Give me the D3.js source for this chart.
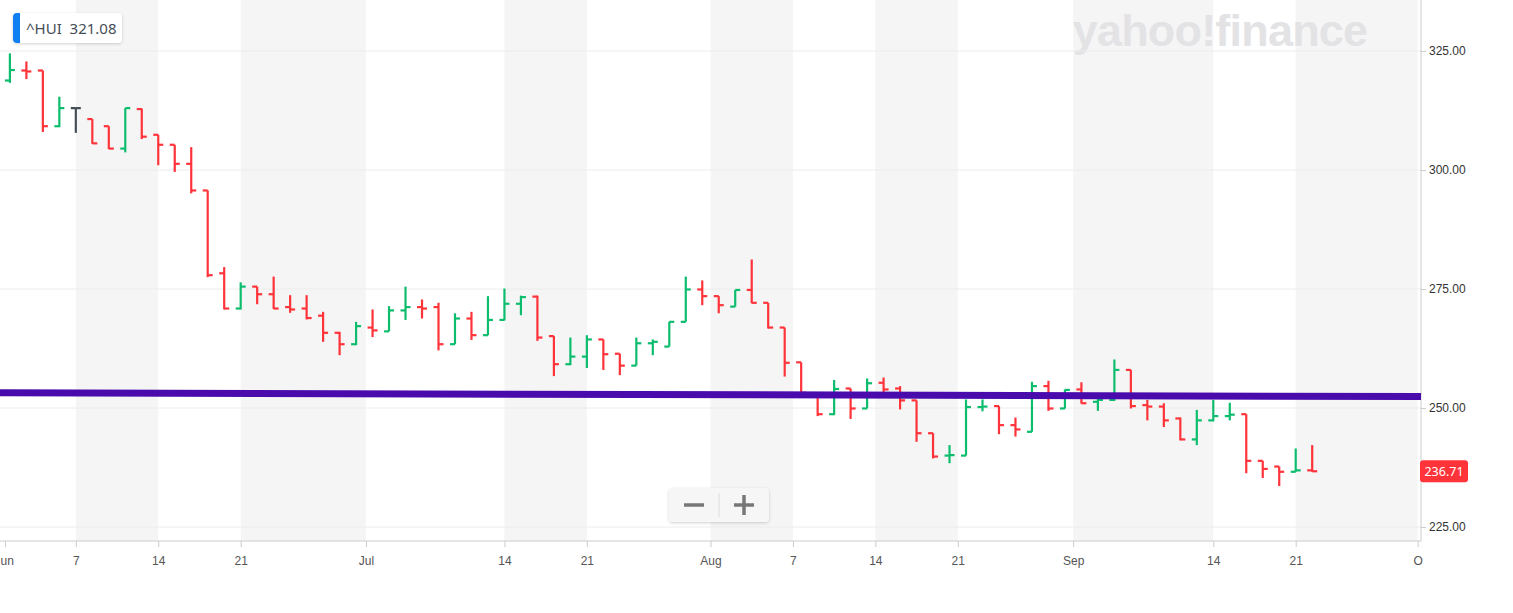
<!DOCTYPE html>
<html>
<head>
<meta charset="utf-8">
<script src="https://cdn.jsdelivr.net/npm/d3@7/dist/d3.min.js"></script>
<style>
  body { margin: 0; background: #fff; font-family: "Noto Sans", "Open Sans", sans-serif; }
  svg { display: block; }
</style>
</head>
<body>
<svg width="1513" height="613"></svg>
<script>
// OHLC for ^HUI, one entry per trading day (index = bar position)
var opens  = [318.8,320.9,320.9,309.2,313.0,310.7,309.2,304.5,312.8,307.4,305.3,301.3,295.7,278.3,270.9,275.5,273.9,271.2,270.9,269.4,
              265.8,263.4,266.9,266.1,270.5,271.2,271.2,263.4,268.8,265.3,268.5,271.9,273.4,265.1,259.2,260.8,264.4,261.4,258.9,263.6,
              262.9,268.1,274.9,273.5,271.3,274.8,272.1,266.9,259.6,253.0,248.7,254.1,249.9,255.3,254.1,251.6,244.7,240.0,240.0,250.2,
              250.4,246.4,245.0,254.6,249.9,253.9,251.3,251.7,258.0,250.6,250.3,247.8,243.4,247.4,248.3,248.7,238.9,237.7,236.6,236.9];
var highs  = [324.5,322.8,320.9,315.4,313.0,310.7,309.2,313.0,312.9,307.4,305.3,304.8,295.7,279.6,276.4,275.5,277.6,273.7,273.7,270.2,
              266.0,268.1,270.7,271.4,275.5,272.8,272.1,269.9,270.2,273.5,275.1,273.6,273.6,265.1,264.8,265.3,264.4,261.4,264.8,264.4,
              268.1,277.6,276.8,273.5,274.8,281.2,272.1,266.9,259.6,253.0,255.9,254.1,256.2,256.4,254.6,251.6,244.7,242.2,251.8,251.8,
              250.4,248.0,255.5,255.7,253.9,255.4,252.5,260.2,258.0,251.7,251.0,248.0,249.6,251.7,251.1,248.7,238.9,237.7,241.5,242.2];
var lows   = [318.3,319.1,308.0,309.0,307.8,305.5,304.4,303.7,306.5,301.0,299.6,295.1,277.5,270.7,270.7,271.8,270.8,270.0,268.6,263.9,
              261.1,263.2,264.9,266.1,268.5,268.8,262.1,263.4,264.3,265.3,268.4,269.5,264.1,256.7,259.0,258.4,258.0,256.9,258.9,261.1,
              262.9,268.1,271.6,269.9,271.3,272.0,266.7,256.6,252.8,248.3,248.5,247.7,249.9,253.1,249.7,242.9,239.4,238.4,240.0,249.3,
              244.5,244.0,245.0,249.4,249.9,250.9,249.4,251.5,249.9,247.4,246.0,243.2,242.2,247.2,247.4,236.3,235.3,233.6,236.6,236.6];
var closes = [321.0,320.7,309.2,313.0,313.0,305.6,304.5,313.0,307.0,305.3,301.3,295.7,277.9,270.9,275.5,273.9,270.9,270.7,268.9,265.8,
              263.4,267.2,266.3,270.5,271.2,270.9,263.4,268.8,265.3,268.5,271.9,273.3,264.8,259.2,260.8,264.4,261.3,258.9,263.6,263.9,
              268.1,274.9,273.5,271.6,274.8,272.1,266.9,259.5,253.2,248.7,254.0,249.9,255.2,253.9,251.6,244.7,239.8,240.1,250.2,250.3,
              246.4,245.5,254.6,249.9,253.8,251.0,251.7,258.0,250.4,250.3,247.4,243.4,247.4,248.3,248.6,238.9,237.2,236.6,236.9,236.71];

var tickPos    = [-0.3, 4, 9, 14, 21.6, 30, 35, 42.5, 47.5, 52.5, 57.5, 64.5, 73, 78, 85.4];
var tickLabels = ["Jun", "7", "14", "21", "Jul", "14", "21", "Aug", "7", "14", "21", "Sep", "14", "21", "Oct"];
var priceTicks = [225, 250, 275, 300, 325];
var trendLine  = [{i: -0.6, v: 253.2}, {i: 85.6, v: 252.4}];
var symbol = "^HUI", hoverValue = "321.08", lastValue = 236.71;

var svg = d3.select("svg"),
    W = 1421, H = 541;

var x = d3.scaleLinear().domain([-0.6, 85.6]).range([0, W]);
var y = d3.scaleLinear().domain([325, 225]).range([51, 527]);

// shaded alternate tick intervals
var bands = [];
for (var k = 1; k < tickPos.length - 1; k += 2) bands.push([tickPos[k], tickPos[k + 1]]);
svg.append("g").selectAll("rect").data(bands).enter().append("rect")
    .attr("x", function(d) { return x(d[0]); })
    .attr("width", function(d) { return x(d[1]) - x(d[0]); })
    .attr("y", 0).attr("height", H)
    .attr("fill", "#f5f5f5");

// watermark
svg.append("text").attr("x", 1220).attr("y", 46).attr("text-anchor", "middle")
    .attr("font-family", "Liberation Sans, Arial, sans-serif").attr("font-weight", "bold")
    .attr("font-size", 45).attr("fill", "#e3e3e6").attr("letter-spacing", -0.8)
    .text("yahoo!finance");

// horizontal grid
svg.append("g").selectAll("line").data(priceTicks).enter().append("line")
    .attr("x1", 0).attr("x2", W)
    .attr("y1", function(d) { return y(d); }).attr("y2", function(d) { return y(d); })
    .attr("stroke", "#ececec");

// axes frame
svg.append("line").attr("x1", 0).attr("x2", W).attr("y1", H).attr("y2", H).attr("stroke", "#ccc");
svg.append("line").attr("x1", W).attr("x2", W).attr("y1", 0).attr("y2", H).attr("stroke", "#ccc");

var xAxis = svg.append("g").attr("transform", "translate(0," + H + ")")
    .call(d3.axisBottom(x).tickValues(tickPos).tickSize(6).tickFormat(function(d, i) { return tickLabels[i]; }));
xAxis.select(".domain").remove();
xAxis.selectAll("line").attr("stroke", "#ccc");
xAxis.selectAll("text").attr("fill", "#555").attr("font-size", 12).attr("dy", "1.25em")
    .text(function(d, i) { return i === 0 ? "un" : (i === tickPos.length - 1 ? "O" : tickLabels[i]); })
    .attr("text-anchor", function(d, i) { return i === 0 ? "start" : "middle"; })
    .attr("x", function(d, i) { return i === 0 ? -x(d) : 0; });

var yAxis = svg.append("g").attr("transform", "translate(" + W + ",0)")
    .call(d3.axisRight(y).tickValues(priceTicks).tickSize(5).tickFormat(d3.format(".2f")));
yAxis.select(".domain").remove();
yAxis.selectAll("line").attr("stroke", "#ccc");
yAxis.selectAll("text").attr("fill", "#333").attr("font-size", 12);

// OHLC bars
var bars = d3.range(opens.length).map(function(i) {
  return {i: i, o: opens[i], h: highs[i], l: lows[i], c: closes[i]};
});
function col(d) { return d.c > d.o ? "#0dbd6e" : (d.c < d.o ? "#ff333a" : "#464e56"); }
var g = svg.append("g").attr("stroke-width", 2.2);
var bar = g.selectAll("g").data(bars).enter().append("g").attr("stroke", col);
bar.append("line")
    .attr("x1", function(d) { return x(d.i); }).attr("x2", function(d) { return x(d.i); })
    .attr("y1", function(d) { return y(d.h); }).attr("y2", function(d) { return y(d.l); });
bar.append("line")
    .attr("x1", function(d) { return x(d.i) - 5; }).attr("x2", function(d) { return x(d.i); })
    .attr("y1", function(d) { return y(d.o); }).attr("y2", function(d) { return y(d.o); });
bar.append("line")
    .attr("x1", function(d) { return x(d.i); }).attr("x2", function(d) { return x(d.i) + 5; })
    .attr("y1", function(d) { return y(d.c); }).attr("y2", function(d) { return y(d.c); });

// trend line
svg.append("path").datum(trendLine)
    .attr("d", d3.line().x(function(d) { return x(d.i); }).y(function(d) { return y(d.v); }))
    .attr("stroke", "#4a0bad").attr("stroke-width", 7).attr("fill", "none");

// last price label
var lp = svg.append("g").attr("transform", "translate(" + (W - 1) + "," + y(lastValue) + ")");
lp.append("rect").attr("x", 0).attr("y", -11).attr("width", 48).attr("height", 22).attr("rx", 3).attr("fill", "#ff333a");
lp.append("text").attr("x", 24).attr("y", 4.5).attr("text-anchor", "middle").attr("fill", "#fff")
    .attr("font-size", 12.5).text(lastValue.toFixed(2));

// symbol label
var defs = svg.append("defs");
var f = defs.append("filter").attr("id", "sh").attr("x", "-20%").attr("y", "-30%").attr("width", "140%").attr("height", "160%");
f.append("feDropShadow").attr("dx", 0).attr("dy", 1).attr("stdDeviation", 1.5).attr("flood-opacity", 0.18);
var sl = svg.append("g").attr("transform", "translate(13,13)");
sl.append("rect").attr("width", 109).attr("height", 30).attr("rx", 4).attr("fill", "#fff").attr("filter", "url(#sh)");
sl.append("path").attr("d", "M4,0 H7 V30 H4 A4,4 0 0 1 0,26 V4 A4,4 0 0 1 4,0 Z").attr("fill", "#0f7ff2");
sl.append("text").attr("x", 13).attr("y", 21).attr("font-size", 15).attr("fill", "#464e56")
    .attr("xml:space", "preserve").text(symbol + "  " + hoverValue);

// zoom controls
var zc = svg.append("g").attr("transform", "translate(669,488)");
zc.append("rect").attr("width", 100).attr("height", 34).attr("rx", 4).attr("fill", "#f6f6f6").attr("filter", "url(#sh)");
zc.append("line").attr("x1", 50).attr("x2", 50).attr("y1", 5).attr("y2", 29).attr("stroke", "#ddd");
zc.append("line").attr("x1", 15).attr("x2", 35).attr("y1", 17).attr("y2", 17).attr("stroke", "#777").attr("stroke-width", 3.5);
zc.append("line").attr("x1", 65).attr("x2", 85).attr("y1", 17).attr("y2", 17).attr("stroke", "#777").attr("stroke-width", 3.5);
zc.append("line").attr("x1", 75).attr("x2", 75).attr("y1", 7).attr("y2", 27).attr("stroke", "#777").attr("stroke-width", 3.5);
</script>
</body>
</html>
